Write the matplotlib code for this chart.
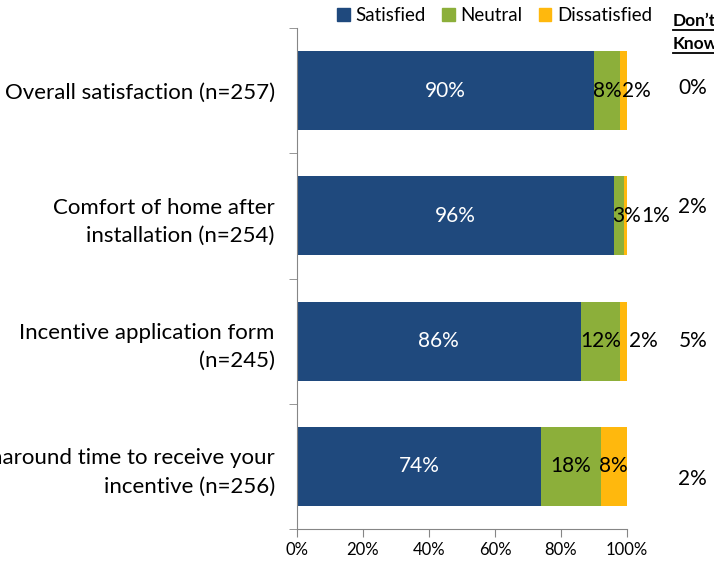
import matplotlib
matplotlib.use('Agg')
import matplotlib.pyplot as plt
from matplotlib.patches import Patch
from matplotlib.lines import Line2D
import numpy as np

plt.rcParams['font.family'] = ['Lato', 'DejaVu Sans']

categories = ['Overall satisfaction (n=257)',
              'Comfort of home after\ninstallation (n=254)',
              'Incentive application form\n(n=245)',
              'Turnaround time to receive your\nincentive (n=256)']
satisfied = [90, 96, 86, 74]
neutral = [8, 3, 12, 18]
dissatisfied = [2, 1, 2, 8]
dont_know = [0, 2, 5, 2]
# where small labels were pushed to (in % units), None = centred
dis_label_x = [103, 108.8, 105, None]
neu_label_x = [None, 100, None, None]
dk_label_dy = [-0.02, -0.07, 0.0, 0.1]

c_sat = '#1F497D'
c_neu = '#8CAF3A'
c_dis = '#FFB80D'

fig = plt.figure(figsize=(7.14, 5.61), dpi=100)
ax = fig.add_axes([0.416, 0.057, 0.462, 0.893])

y = np.arange(len(categories))
sat = np.array(satisfied)
neu = np.array(neutral)
dis = np.array(dissatisfied)
h = 0.63

ax.barh(y, sat, height=h, color=c_sat)
ax.barh(y, neu, left=sat, height=h, color=c_neu)
ax.barh(y, dis, left=sat + neu, height=h, color=c_dis)

fs = 15
for i in range(len(y)):
    ax.text(sat[i] / 2, y[i], f'{sat[i]}%', color='white', ha='center', va='center', fontsize=fs)
    nx = neu_label_x[i] if neu_label_x[i] is not None else sat[i] + neu[i] / 2
    ax.text(nx, y[i], f'{neu[i]}%', color='black', ha='center', va='center', fontsize=fs)
    dx = dis_label_x[i] if dis_label_x[i] is not None else sat[i] + neu[i] + dis[i] / 2
    ax.text(dx, y[i], f'{dis[i]}%', color='black', ha='center', va='center', fontsize=fs,
            clip_on=False)
    ax.text(120, y[i] + dk_label_dy[i], f'{dont_know[i]}%', color='black', ha='center',
            va='center', fontsize=fs, clip_on=False)

ax.set_xlim(0, 100)
ax.set_ylim(len(categories) - 0.5, -0.5)
ax.set_xticks(np.arange(0, 101, 20))
ax.set_xticklabels([f'{v}%' for v in range(0, 101, 20)], fontsize=12)
ax.set_yticks(y)
ax.set_yticklabels(categories, fontsize=16, linespacing=1.5)
ax.set_yticks(np.arange(-0.5, len(categories), 1), minor=True)
ax.tick_params(axis='y', which='major', length=0, pad=16)
ax.tick_params(axis='y', which='minor', length=6, color='#868686', direction='out')
ax.tick_params(axis='x', length=6, color='#868686', direction='out')
for s in ['top', 'right']:
    ax.spines[s].set_visible(False)
for s in ['left', 'bottom']:
    ax.spines[s].set_color('#868686')

handles = [Patch(color=c_sat, label='Satisfied'),
           Patch(color=c_neu, label='Neutral'),
           Patch(color=c_dis, label='Dissatisfied')]
fig.legend(handles=handles, loc='center', bbox_to_anchor=(0.693, 0.972), ncol=3,
           frameon=False, fontsize=13.5, handlelength=0.65, handleheight=0.65,
           handletextpad=0.3, columnspacing=0.9)

# underlined bold "Don't Know" header
hdr = []
for txt, yy in [('Don\u2019t', 0.962), ('Know', 0.921)]:
    t = fig.text(0.942, yy, txt, fontsize=12.5, fontweight='bold', ha='left', va='center')
    hdr.append(t)
fig.canvas.draw()
r = fig.canvas.get_renderer()
for t in hdr:
    bb = t.get_window_extent(r).transformed(fig.transFigure.inverted())
    fig.add_artist(Line2D([bb.x0, bb.x1], [bb.y0 - 0.002, bb.y0 - 0.002],
                          transform=fig.transFigure, color='black', lw=1.3))

fig.savefig('out.png', dpi=100)
